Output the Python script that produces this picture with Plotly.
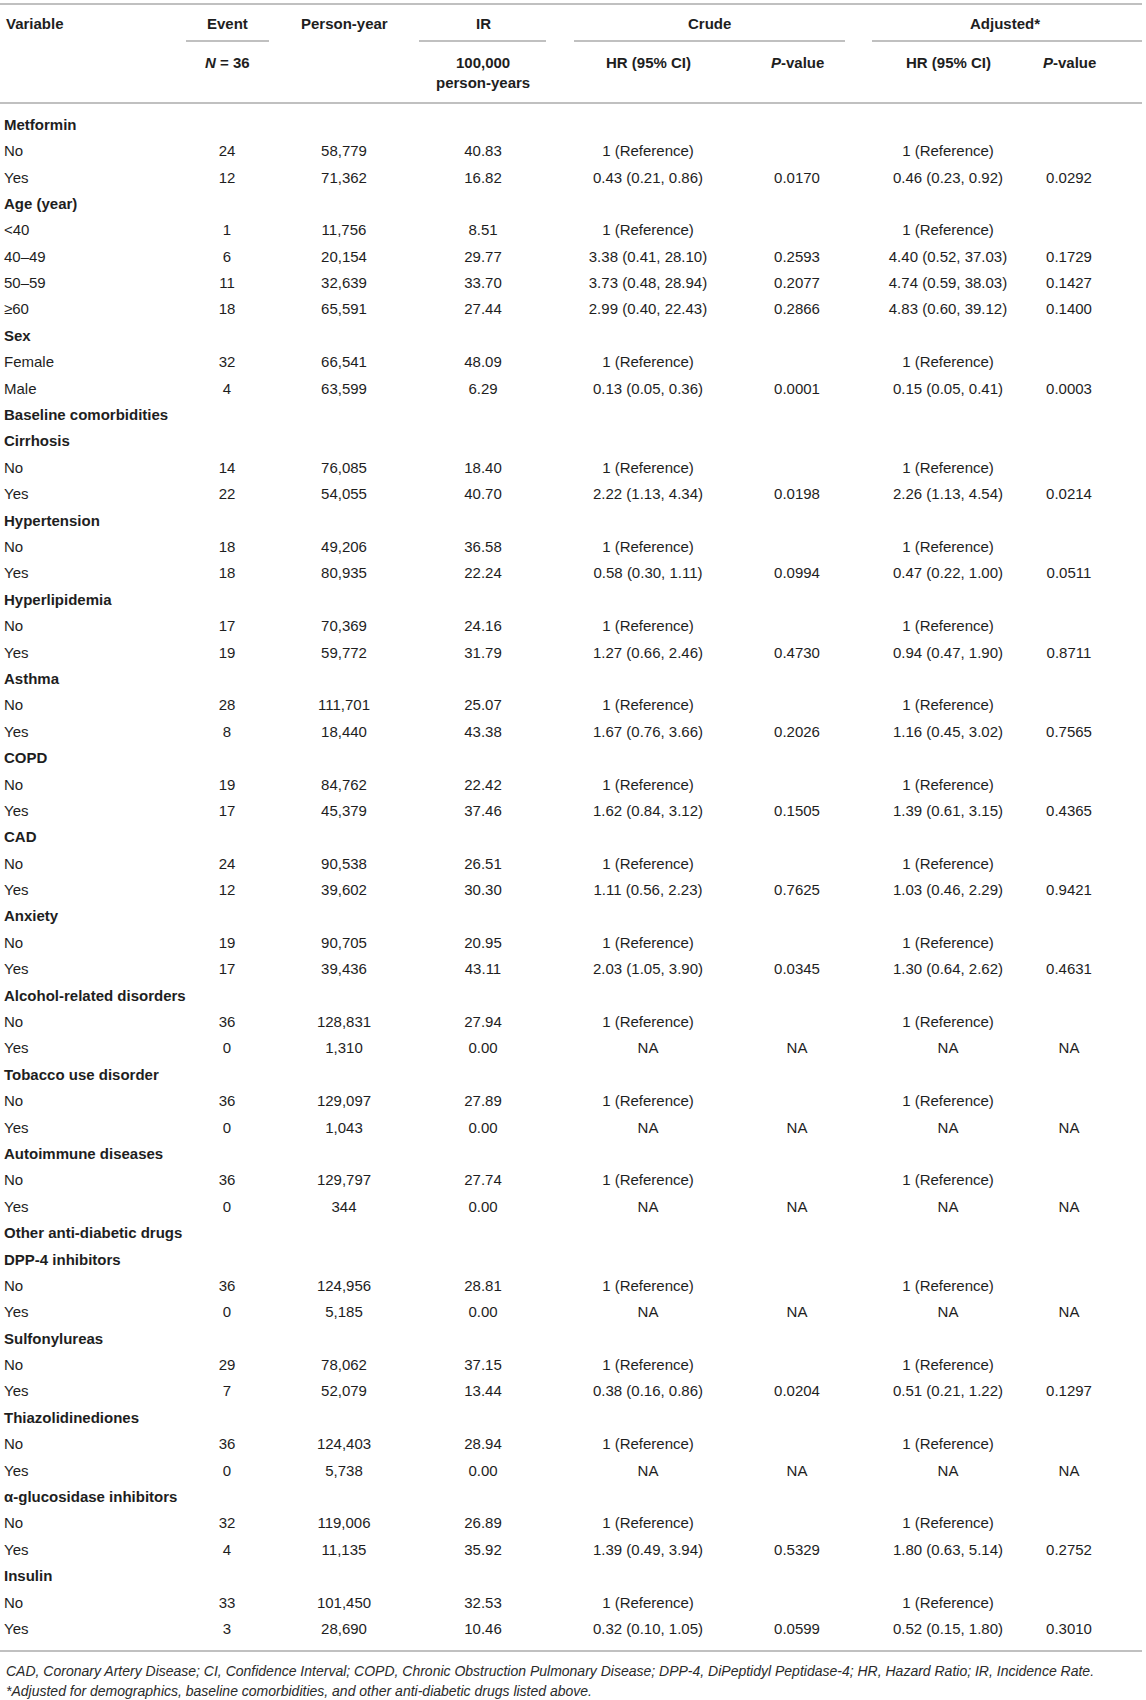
import plotly.graph_objects as go

# table body, one entry per row
variables = ["Metformin", "No", "Yes", "Age (year)", "<40", "40–49", "50–59", "≥60",
             "Sex", "Female", "Male", "Baseline comorbidities", "Cirrhosis", "No", "Yes",
             "Hypertension", "No", "Yes", "Hyperlipidemia", "No", "Yes", "Asthma", "No", "Yes",
             "COPD", "No", "Yes", "CAD", "No", "Yes", "Anxiety", "No", "Yes",
             "Alcohol-related disorders", "No", "Yes", "Tobacco use disorder", "No", "Yes",
             "Autoimmune diseases", "No", "Yes", "Other anti-diabetic drugs", "DPP-4 inhibitors",
             "No", "Yes", "Sulfonylureas", "No", "Yes", "Thiazolidinediones", "No", "Yes",
             "α-glucosidase inhibitors", "No", "Yes", "Insulin", "No", "Yes"]

events = ["", "24", "12", "", "1", "6", "11", "18", "", "32", "4", "", "", "14", "22",
          "", "18", "18", "", "17", "19", "", "28", "8", "", "19", "17", "", "24", "12",
          "", "19", "17", "", "36", "0", "", "36", "0", "", "36", "0", "", "",
          "36", "0", "", "29", "7", "", "36", "0", "", "32", "4", "", "33", "3"]

person_years = ["", "58,779", "71,362", "", "11,756", "20,154", "32,639", "65,591",
                "", "66,541", "63,599", "", "", "76,085", "54,055",
                "", "49,206", "80,935", "", "70,369", "59,772", "", "111,701", "18,440",
                "", "84,762", "45,379", "", "90,538", "39,602", "", "90,705", "39,436",
                "", "128,831", "1,310", "", "129,097", "1,043", "", "129,797", "344", "", "",
                "124,956", "5,185", "", "78,062", "52,079", "", "124,403", "5,738",
                "", "119,006", "11,135", "", "101,450", "28,690"]

ir = ["", "40.83", "16.82", "", "8.51", "29.77", "33.70", "27.44", "", "48.09", "6.29",
      "", "", "18.40", "40.70", "", "36.58", "22.24", "", "24.16", "31.79", "", "25.07", "43.38",
      "", "22.42", "37.46", "", "26.51", "30.30", "", "20.95", "43.11", "", "27.94", "0.00",
      "", "27.89", "0.00", "", "27.74", "0.00", "", "", "28.81", "0.00", "", "37.15", "13.44",
      "", "28.94", "0.00", "", "26.89", "35.92", "", "32.53", "10.46"]

REF = "1 (Reference)"
crude_hr = ["", REF, "0.43 (0.21, 0.86)", "", REF, "3.38 (0.41, 28.10)", "3.73 (0.48, 28.94)",
            "2.99 (0.40, 22.43)", "", REF, "0.13 (0.05, 0.36)", "", "", REF, "2.22 (1.13, 4.34)",
            "", REF, "0.58 (0.30, 1.11)", "", REF, "1.27 (0.66, 2.46)", "", REF, "1.67 (0.76, 3.66)",
            "", REF, "1.62 (0.84, 3.12)", "", REF, "1.11 (0.56, 2.23)", "", REF, "2.03 (1.05, 3.90)",
            "", REF, "NA", "", REF, "NA", "", REF, "NA", "", "", REF, "NA",
            "", REF, "0.38 (0.16, 0.86)", "", REF, "NA", "", REF, "1.39 (0.49, 3.94)",
            "", REF, "0.32 (0.10, 1.05)"]

crude_p = ["", "", "0.0170", "", "", "0.2593", "0.2077", "0.2866", "", "", "0.0001",
           "", "", "", "0.0198", "", "", "0.0994", "", "", "0.4730", "", "", "0.2026",
           "", "", "0.1505", "", "", "0.7625", "", "", "0.0345", "", "", "NA",
           "", "", "NA", "", "", "NA", "", "", "", "NA", "", "", "0.0204",
           "", "", "NA", "", "", "0.5329", "", "", "0.0599"]

adj_hr = ["", REF, "0.46 (0.23, 0.92)", "", REF, "4.40 (0.52, 37.03)", "4.74 (0.59, 38.03)",
          "4.83 (0.60, 39.12)", "", REF, "0.15 (0.05, 0.41)", "", "", REF, "2.26 (1.13, 4.54)",
          "", REF, "0.47 (0.22, 1.00)", "", REF, "0.94 (0.47, 1.90)", "", REF, "1.16 (0.45, 3.02)",
          "", REF, "1.39 (0.61, 3.15)", "", REF, "1.03 (0.46, 2.29)", "", REF, "1.30 (0.64, 2.62)",
          "", REF, "NA", "", REF, "NA", "", REF, "NA", "", "", REF, "NA",
          "", REF, "0.51 (0.21, 1.22)", "", REF, "NA", "", REF, "1.80 (0.63, 5.14)",
          "", REF, "0.52 (0.15, 1.80)"]

adj_p = ["", "", "0.0292", "", "", "0.1729", "0.1427", "0.1400", "", "", "0.0003",
         "", "", "", "0.0214", "", "", "0.0511", "", "", "0.8711", "", "", "0.7565",
         "", "", "0.4365", "", "", "0.9421", "", "", "0.4631", "", "", "NA",
         "", "", "NA", "", "", "NA", "", "", "", "NA", "", "", "0.1297",
         "", "", "NA", "", "", "0.2752", "", "", "0.3010"]

footnotes = ["CAD, Coronary Artery Disease; CI, Confidence Interval; COPD, Chronic Obstruction "
             "Pulmonary Disease; DPP-4, DiPeptidyl Peptidase-4; HR, Hazard Ratio; IR, Incidence Rate.",
             "*Adjusted for demographics, baseline comorbidities, and other anti-diabetic drugs listed above."]

W, H = 1146, 1700
FONT = "Liberation Sans, Arial, sans-serif"
FS = 15
TXT = "#1e1e1e"
LINE = "#ababab"

row_y0, row_dy = 126, 26.39
ys = [row_y0 + i * row_dy for i in range(len(variables))]
col_x = {"event": 227, "py": 344, "ir": 483, "chr": 648, "cp": 797, "ahr": 948, "ap": 1069}

fig = go.Figure()

# variable column: group headings (rows with no numbers) in bold
labels = [f"<b>{v}</b>" if e == "" else v for v, e in zip(variables, events)]
fig.add_trace(go.Scatter(x=[4] * len(labels), y=ys, text=labels, mode="text",
                         textposition="middle right", hoverinfo="skip",
                         textfont=dict(family=FONT, size=FS, color=TXT)))

for key, col in [("event", events), ("py", person_years), ("ir", ir), ("chr", crude_hr),
                 ("cp", crude_p), ("ahr", adj_hr), ("ap", adj_p)]:
    fig.add_trace(go.Scatter(x=[col_x[key]] * len(col), y=ys, text=col, mode="text",
                             textposition="middle center", hoverinfo="skip",
                             textfont=dict(family=FONT, size=FS, color=TXT)))

# header
hdr = dict(xref="x", yref="y", showarrow=False, font=dict(family=FONT, size=FS, color=TXT))
fig.add_annotation(x=4, y=23, text="<b>Variable</b>", xanchor="left", **hdr)
fig.add_annotation(x=col_x["event"], y=23, text="<b>Event</b>", **hdr)
fig.add_annotation(x=col_x["py"], y=23, text="<b>Person-year</b>", **hdr)
fig.add_annotation(x=col_x["ir"], y=23, text="<b>IR</b>", **hdr)
fig.add_annotation(x=709, y=23, text="<b>Crude</b>", **hdr)
fig.add_annotation(x=1005, y=23, text="<b>Adjusted*</b>", **hdr)
fig.add_annotation(x=col_x["event"], y=62, text="<b><i>N</i> = 36</b>", **hdr)
fig.add_annotation(x=col_x["ir"], y=72, text="<b>100,000<br>person-years</b>", **hdr)
for k in ["chr", "ahr"]:
    fig.add_annotation(x=col_x[k], y=62, text="<b>HR (95% CI)</b>", **hdr)
for k in ["cp", "ap"]:
    fig.add_annotation(x=col_x[k], y=62, text="<b><i>P</i>-value</b>", **hdr)

for i, note in enumerate(footnotes):
    fig.add_annotation(x=4, y=1671 + 20 * i, text=f"<i>{note}</i>", xanchor="left",
                       xref="x", yref="y", showarrow=False,
                       font=dict(family=FONT, size=14, color="#2a2a2a"))

# rules
def hline(x0, x1, y):
    fig.add_shape(type="line", x0=x0, x1=x1, y0=y, y1=y, xref="x", yref="y",
                  line=dict(color=LINE, width=1.5))

hline(0, 1142, 4)
hline(186, 269, 41)
hline(419, 546, 41)
hline(574, 845, 41)
hline(872, 1142, 41)
hline(0, 1142, 103)
hline(0, 1142, 1651)

fig.update_traces(cliponaxis=False)
fig.update_xaxes(range=[0, W], visible=False, fixedrange=True)
fig.update_yaxes(range=[H, 0], visible=False, fixedrange=True)
fig.update_layout(width=W, height=H, margin=dict(l=0, r=0, t=0, b=0),
                  plot_bgcolor="white", paper_bgcolor="white", showlegend=False)

# drop the browser's default 8px body margin so the table sits at the page corner
fig.write_html("out.html", config={"displayModeBar": False},
               post_script="document.body.style.margin = '0px';")
